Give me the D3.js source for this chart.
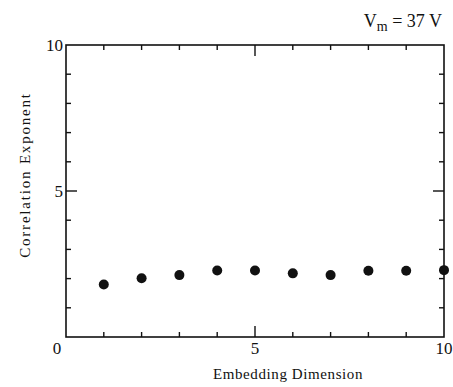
<!DOCTYPE html>
<html>
<head>
<meta charset="utf-8">
<script src="https://cdn.jsdelivr.net/npm/d3@7"></script>
<style>
  body { margin: 0; background: #fff; }
  text { font-family: "Liberation Serif", "DejaVu Serif", serif; fill: #111; }
</style>
</head>
<body>
<svg id="chart" width="453" height="387"></svg>
<script>
const dims = [1, 2, 3, 4, 5, 6, 7, 8, 9, 10]
const exponents = [1.80, 2.01, 2.12, 2.28, 2.28, 2.18, 2.12, 2.27, 2.27, 2.29]
const xTickLabels = [0, 5, 10]
const yTickLabels = [5, 10]

const margin = { top: 45, right: 9, bottom: 50, left: 66 }
const width = 453
const height = 387

const svg = d3.select("#chart")

const x = d3.scaleLinear().domain([0, 10]).range([margin.left, width - margin.right])
const y = d3.scaleLinear().domain([0, 10]).range([height - margin.bottom, margin.top])

// frame
svg.append("rect")
    .attr("x", x(0)).attr("y", y(10))
    .attr("width", x(10) - x(0)).attr("height", y(0) - y(10))
    .attr("fill", "none").attr("stroke", "#111").attr("stroke-width", 1.6)

const ticks = d3.range(1, 10)
const tickLen = (v) => v === 5 ? 11 : 5

// ticks on all four sides, pointing inwards
svg.append("g").selectAll("line").data(ticks).enter().append("line")
    .attr("x1", (d) => x(d)).attr("x2", (d) => x(d))
    .attr("y1", y(0)).attr("y2", (d) => y(0) - tickLen(d))
    .attr("stroke", "#111").attr("stroke-width", 1.4)
svg.append("g").selectAll("line").data(ticks).enter().append("line")
    .attr("x1", (d) => x(d)).attr("x2", (d) => x(d))
    .attr("y1", y(10)).attr("y2", (d) => y(10) + tickLen(d))
    .attr("stroke", "#111").attr("stroke-width", 1.4)
svg.append("g").selectAll("line").data(ticks).enter().append("line")
    .attr("y1", (d) => y(d)).attr("y2", (d) => y(d))
    .attr("x1", x(0)).attr("x2", (d) => x(0) + tickLen(d))
    .attr("stroke", "#111").attr("stroke-width", 1.4)
svg.append("g").selectAll("line").data(ticks).enter().append("line")
    .attr("y1", (d) => y(d)).attr("y2", (d) => y(d))
    .attr("x1", x(10)).attr("x2", (d) => x(10) - tickLen(d))
    .attr("stroke", "#111").attr("stroke-width", 1.4)

// tick labels
svg.append("g").selectAll("text").data(xTickLabels).enter().append("text")
    .attr("x", (d) => d === 0 ? x(d) - 9 : x(d))
    .attr("y", y(0) + 17)
    .attr("text-anchor", "middle")
    .attr("font-size", 17)
    .text((d) => d)
svg.append("g").selectAll("text").data(yTickLabels).enter().append("text")
    .attr("x", x(0) - 3)
    .attr("y", (d) => y(d) + 6)
    .attr("text-anchor", "end")
    .attr("font-size", 17)
    .text((d) => d)

// axis titles
svg.append("text")
    .attr("x", 288)
    .attr("y", y(0) + 42)
    .attr("text-anchor", "middle")
    .attr("font-size", 15)
    .attr("letter-spacing", 0.6)
    .text("Embedding Dimension")
svg.append("text")
    .attr("transform", "translate(30,175) rotate(-90)")
    .attr("text-anchor", "middle")
    .attr("font-size", 15)
    .attr("letter-spacing", 1.8)
    .text("Correlation Exponent")

// label top right
const lab = svg.append("text")
    .attr("x", 442).attr("y", 27)
    .attr("text-anchor", "end")
    .attr("font-size", 18)
lab.append("tspan").text("V")
lab.append("tspan").attr("dy", 4).attr("font-size", 14).text("m")
lab.append("tspan").attr("dy", -4).text(" = 37 V")

// points
svg.append("g").selectAll("circle").data(dims).enter().append("circle")
    .attr("cx", (d) => x(d))
    .attr("cy", (d, i) => y(exponents[i]))
    .attr("r", 5)
    .attr("fill", "#111")
</script>
</body>
</html>
